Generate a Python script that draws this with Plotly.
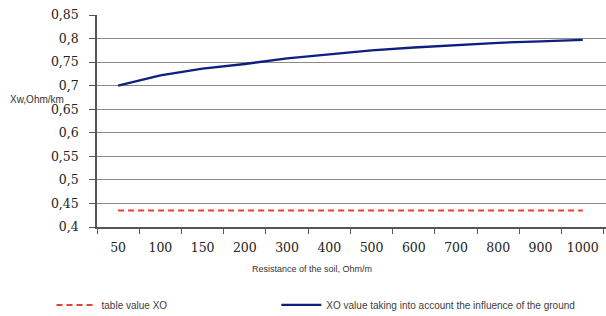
import plotly.graph_objects as go

categories = ["50", "100", "150", "200", "300", "400", "500", "600", "700", "800", "900", "1000"]
table_xo = [0.435] * 12
xo_ground = [0.700, 0.722, 0.736, 0.746, 0.758, 0.767, 0.775, 0.781, 0.786, 0.791, 0.794, 0.797]
y_tickvals = [0.4, 0.45, 0.5, 0.55, 0.6, 0.65, 0.7, 0.75, 0.8, 0.85]
y_ticktext = ["0,4", "0,45", "0,5", "0,55", "0,6", "0,65", "0,7", "0,75", "0,8", "0,85"]

legend_font = dict(family="Liberation Sans, Arial", size=10, color="#404040")

fig = go.Figure()
fig.add_trace(go.Scatter(x=categories, y=table_xo, mode="lines", name="table value XO",
                         legend="legend",
                         line=dict(color="#e8412c", width=2, dash="6px,4px")))
fig.add_trace(go.Scatter(x=categories, y=xo_ground, mode="lines",
                         name="XO value taking into account the influence of the ground",
                         legend="legend2",
                         line=dict(color="#0f1f80", width=2.3)))

fig.update_layout(
    width=606, height=316,
    margin=dict(l=97, r=0, t=15, b=89, autoexpand=False),
    paper_bgcolor="white", plot_bgcolor="white",
    showlegend=True,
    legend=dict(orientation="h", xref="container", yref="container",
                x=0.085, xanchor="left", y=0.035, yanchor="middle",
                font=legend_font, itemwidth=40, bgcolor="rgba(0,0,0,0)"),
    legend2=dict(orientation="h", xref="container", yref="container",
                 x=0.456, xanchor="left", y=0.035, yanchor="middle",
                 font=legend_font, itemwidth=40, bgcolor="rgba(0,0,0,0)"),
    xaxis=dict(type="category", range=[-0.5, 11.55], tickson="boundaries",
               ticks="outside", ticklen=5, tickcolor="#555", tickwidth=1,
               ticklabelstandoff=8,
               showline=True, linecolor="#555", linewidth=1.5, showgrid=False,
               automargin=False,
               tickfont=dict(family="DejaVu Serif", size=12.5, color="#222")),
    yaxis=dict(range=[0.4, 0.85], tickvals=y_tickvals, ticktext=y_ticktext,
               ticks="outside", ticklen=6, tickcolor="#555",
               ticklabelstandoff=8, automargin=False,
               showline=True, linecolor="#555", linewidth=1.5,
               showgrid=True, gridcolor="#8a8a8a", gridwidth=1, zeroline=False,
               tickfont=dict(family="DejaVu Serif", size=12.5, color="#222")),
    annotations=[
        dict(text="Resistance of the soil, Ohm/m", xref="paper", yref="paper",
             x=0.423, y=-0.2, xanchor="center", yanchor="middle", showarrow=False,
             font=dict(family="Liberation Sans, Arial", size=9, color="#333")),
        dict(text="Xw,Ohm/km", xref="paper", yref="paper",
             x=-0.175, y=0.6, xanchor="left", yanchor="middle", showarrow=False,
             font=dict(family="Liberation Sans, Arial", size=10, color="#333")),
    ],
)

fig.write_html("out.html", config={"displayModeBar": False},
               post_script="document.body.style.margin='0';document.body.style.overflow='hidden';")
